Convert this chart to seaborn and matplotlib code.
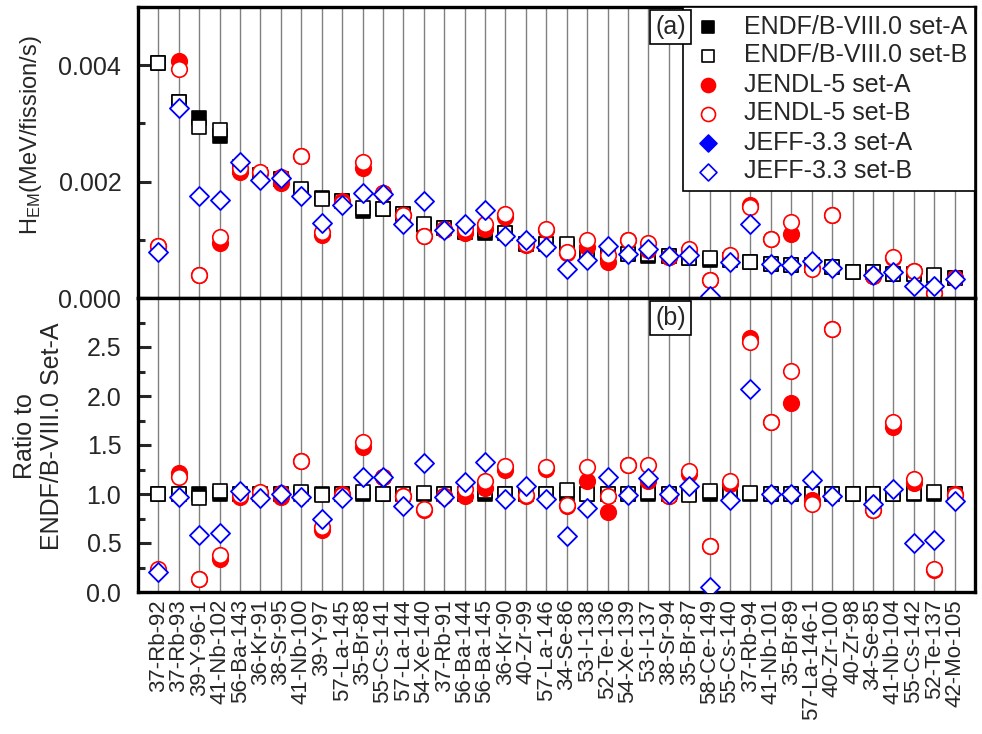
import numpy as np
import pandas as pd
import matplotlib
matplotlib.use("Agg")
import matplotlib.pyplot as plt
import seaborn as sns
from matplotlib.ticker import MultipleLocator, FormatStrFormatter

sns.set_style("ticks")
plt.rcParams['font.family'] = ['Liberation Sans', 'DejaVu Sans']
plt.rcParams['mathtext.default'] = 'regular'

nuclides = ["37-Rb-92", "37-Rb-93", "39-Y-96-1", "41-Nb-102", "56-Ba-143", "36-Kr-91",
            "38-Sr-95", "41-Nb-100", "39-Y-97", "57-La-145", "35-Br-88", "55-Cs-141",
            "57-La-144", "54-Xe-140", "37-Rb-91", "56-Ba-144", "56-Ba-145", "36-Kr-90",
            "40-Zr-99", "57-La-146", "34-Se-86", "53-I-138", "52-Te-136", "54-Xe-139",
            "53-I-137", "38-Sr-94", "35-Br-87", "58-Ce-149", "55-Cs-140", "37-Rb-94",
            "41-Nb-101", "35-Br-89", "57-La-146-1", "40-Zr-100", "40-Zr-98", "34-Se-85",
            "41-Nb-104", "55-Cs-142", "52-Te-137", "42-Mo-105"]

nan = np.nan
# H_EM (MeV/fission/s)
endf_A = [0.00404, 0.00337, 0.00309, 0.00278, 0.00225, 0.00212, 0.00205, 0.00184, 0.00172, 0.00166,
          0.00150, 0.00153, 0.00145, 0.00126, 0.00120, 0.00113, 0.00112, 0.00112, 0.00093, 0.00092,
          0.00089, 0.00077, 0.00076, 0.00076, 0.00073, 0.00072, 0.00069, 0.00066, 0.00066, 0.00061,
          0.00058, 0.00057, 0.00056, 0.00053, 0.00044, 0.00044, 0.00042, 0.00042, 0.00038, 0.00035]
endf_B = [0.00404, 0.00337, 0.00293, 0.00289, 0.00225, 0.00212, 0.00205, 0.00188, 0.00170, 0.00166,
          0.00154, 0.00153, 0.00145, 0.00127, 0.00120, 0.00113, 0.00116, 0.00112, 0.00093, 0.00093,
          0.00093, 0.00077, 0.00076, 0.00076, 0.00075, 0.00072, 0.00069, 0.00068, 0.00066, 0.00062,
          0.00058, 0.00057, 0.00056, 0.00053, 0.00044, 0.00044, 0.00042, 0.00042, 0.00039, 0.00035]
jendl_A = [0.00089, 0.00407, 0.00039, 0.00094, 0.00217, 0.00215, 0.00198, 0.00244, 0.00108, 0.00166,
           0.00223, 0.00180, 0.00142, 0.00106, 0.00117, 0.00111, 0.00119, 0.00140, 0.00091, 0.00116,
           0.00078, 0.00087, 0.00062, 0.00099, 0.00083, 0.00071, 0.00082, 0.00031, 0.00072, 0.00160,
           0.00101, 0.00110, 0.00052, 0.00143, nan, 0.00037, 0.00069, 0.00046, 0.00009, 0.00035]
jendl_B = [0.00089, 0.00393, 0.00039, 0.00104, 0.00223, 0.00217, 0.00208, 0.00244, 0.00114, 0.00164,
           0.00233, 0.00180, 0.00143, 0.00107, 0.00118, 0.00118, 0.00128, 0.00144, 0.00092, 0.00118,
           0.00079, 0.00099, 0.00074, 0.00099, 0.00095, 0.00071, 0.00085, 0.00031, 0.00074, 0.00157,
           0.00101, 0.00130, 0.00050, 0.00143, nan, 0.00037, 0.00071, 0.00047, 0.00009, 0.00035]
jeff_A = [0.00079, 0.00327, 0.00176, 0.00169, 0.00234, 0.00203, 0.00206, 0.00175, 0.00129, 0.00159,
          0.00180, 0.00179, 0.00128, 0.00166, 0.00116, 0.00127, 0.00151, 0.00106, 0.00100, 0.00087,
          0.00050, 0.00066, 0.00089, 0.00075, 0.00085, 0.00072, 0.00074, 0.00004, 0.00062, 0.00127,
          0.00058, 0.00057, 0.00064, 0.00052, nan, 0.00039, 0.00044, 0.00021, 0.00020, 0.00032]
jeff_B = list(jeff_A)

# Ratio to ENDF/B-VIII.0 set-A
r_endf_A = [1.0] * 40
r_endf_B = [1.00, 1.00, 0.96, 1.03, 1.00, 1.00, 1.00, 1.02, 0.99, 1.00,
            1.02, 1.00, 1.00, 1.01, 1.00, 1.00, 1.03, 1.00, 1.00, 1.00,
            1.04, 1.00, 1.00, 1.00, 1.02, 1.00, 0.99, 1.03, 1.00, 1.01,
            1.00, 1.00, 1.00, 1.00, 1.00, 1.00, 1.00, 1.01, 1.02, 1.00]
r_jendl_A = [0.22, 1.21, 0.13, 0.34, 0.97, 1.01, 0.97, 1.34, 0.63, 1.00,
             1.48, 1.17, 0.98, 0.84, 0.98, 0.98, 1.06, 1.25, 0.98, 1.26,
             0.88, 1.13, 0.82, 1.30, 1.13, 0.98, 1.20, 0.47, 1.10, 2.59,
             1.73, 1.93, 0.94, 2.68, nan, 0.84, 1.68, 1.11, 0.22, 1.00]
r_jendl_B = [0.23, 1.17, 0.13, 0.38, 0.99, 1.02, 1.01, 1.34, 0.66, 0.99,
             1.53, 1.17, 0.98, 0.85, 0.98, 1.05, 1.13, 1.29, 0.99, 1.28,
             0.89, 1.28, 0.98, 1.30, 1.30, 0.98, 1.23, 0.47, 1.13, 2.55,
             1.73, 2.26, 0.90, 2.68, nan, 0.84, 1.73, 1.15, 0.23, 0.99]
r_jeff_A = [0.20, 0.97, 0.58, 0.60, 1.03, 0.96, 1.00, 0.97, 0.75, 0.96,
            1.17, 1.17, 0.88, 1.32, 0.97, 1.12, 1.33, 0.95, 1.08, 0.95,
            0.57, 0.86, 1.17, 0.99, 1.16, 1.00, 1.08, 0.05, 0.94, 2.07,
            1.00, 1.00, 1.14, 0.98, nan, 0.90, 1.05, 0.50, 0.53, 0.93]
r_jeff_B = list(r_jeff_A)

labels = ["ENDF/B-VIII.0 set-A", "ENDF/B-VIII.0 set-B", "JENDL-5 set-A",
          "JENDL-5 set-B", "JEFF-3.3 set-A", "JEFF-3.3 set-B"]

styles = [
    dict(marker='s', s=92, color='black', edgecolor='black'),
    dict(marker='s', s=92, color='white', edgecolor='black'),
    dict(marker='o', s=125, color='red', edgecolor='red'),
    dict(marker='o', s=125, color='white', edgecolor='red'),
    dict(marker='D', s=92, color='blue', edgecolor='blue'),
    dict(marker='D', s=92, color='white', edgecolor='blue'),
]

top_series = [endf_A, endf_B, jendl_A, jendl_B, jeff_A, jeff_B]
bot_series = [r_endf_A, r_endf_B, r_jendl_A, r_jendl_B, r_jeff_A, r_jeff_B]

fig = plt.figure(figsize=(9.82, 7.34), dpi=100)
L, R = 138 / 982, 975 / 982
ax1 = fig.add_axes([L, 1 - 298 / 734, R - L, 291 / 734])
ax2 = fig.add_axes([L, 1 - 592 / 734, R - L, 294 / 734])

xpos = np.arange(len(nuclides))
for ax, series in ((ax1, top_series), (ax2, bot_series)):
    for vals, st, lab in zip(series, styles, labels):
        df = pd.DataFrame({"x": xpos, "y": vals}).dropna()
        sns.scatterplot(data=df, x="x", y="y", ax=ax, label=lab, linewidth=1.2,
                        zorder=3, legend=False, **st)
    ax.set_xlim(-1, 40)
    ax.set_xticks(xpos)
    ax.grid(axis='x', color='#808080', lw=1.0)
    ax.set_axisbelow(True)
    for sp in ax.spines.values():
        sp.set_linewidth(2.4)
        sp.set_color('black')
    ax.tick_params(axis='y', which='major', direction='in', length=9, width=2.2,
                   labelsize=18, pad=12, right=False)
    ax.tick_params(axis='y', which='minor', direction='in', length=5, width=2.2, right=False)
    ax.tick_params(axis='x', length=0)
    ax.set_xlabel("")

ax1.set_ylim(0, 0.005)
ax1.set_yticks([0.0, 0.002, 0.004])
ax1.yaxis.set_minor_locator(MultipleLocator(0.001))
ax1.yaxis.set_major_formatter(FormatStrFormatter('%.3f'))
ax1.set_xticklabels([])
ax1.set_ylabel(r'H$_{EM}$(MeV/fission/s)', fontsize=17)
ax1.yaxis.set_label_coords(-0.112, 0.56)

ax2.set_ylim(0, 3.0)
ax2.set_yticks([0.0, 0.5, 1.0, 1.5, 2.0, 2.5])
ax2.yaxis.set_minor_locator(MultipleLocator(0.25))
ax2.yaxis.set_major_formatter(FormatStrFormatter('%.1f'))
ax2.set_xticklabels(nuclides, rotation=90, fontsize=16)
ax2.tick_params(axis='x', pad=5)
ax2.set_ylabel("Ratio to\nENDF/B-VIII.0 Set-A", fontsize=18, linespacing=1.2)
ax2.yaxis.set_label_coords(-0.088, 0.53)

handles, labs = ax1.get_legend_handles_labels()
leg = ax1.legend(handles, labs, loc='upper right', fontsize=18, frameon=True,
                 fancybox=False, framealpha=1, edgecolor='black', borderaxespad=0.0,
                 labelspacing=0.2, handletextpad=0.75, borderpad=0.3, handlelength=1.4,
                 markerscale=0.9)
leg.get_frame().set_linewidth(1.2)
leg.set_zorder(10)

for ax, txt, yy in ((ax1, "(a)", 1 - 8 / 291), (ax2, "(b)", 1 - 8 / 294)):
    ax.text((686 - 138) / 837, yy, txt, transform=ax.transAxes, ha='right', va='top',
            fontsize=18, zorder=11,
            bbox=dict(boxstyle='square,pad=0.2', fc='white', ec='black', lw=1.2))

fig.savefig("out.png", dpi=100)
